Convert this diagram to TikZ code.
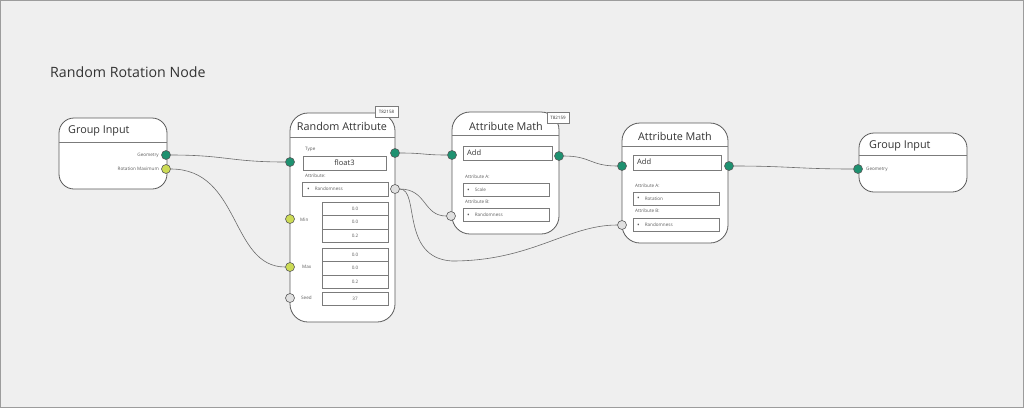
\documentclass[tikz,border=0pt]{standalone}
\usepackage{fontspec}
\setmainfont{Open Sans}
\usepackage{xcolor}
\usepackage{tikz}
\usetikzlibrary{positioning}

\definecolor{bgcol}{HTML}{EFEFEF}
\definecolor{edgecol}{HTML}{5A5A5A}
\definecolor{txtcol}{HTML}{333333}
\definecolor{sockgreen}{HTML}{1E9170}
\definecolor{socklime}{HTML}{CCDB55}
\definecolor{sockgray}{HTML}{E0E0E0}

\newcommand{\dotitem}[1]{\raisebox{-0.6pt}{\fontsize{7}{7}\selectfont\textbullet}\hspace{5pt}#1}

\tikzset{
    nodebox/.style={line width=0.8pt, draw=edgecol, fill=white},
    fieldbox/.style={line width=0.5pt, draw=edgecol!80, fill=white},
    sock/.style={circle, draw=edgecol, line width=0.6pt, minimum size=9pt, inner sep=0pt},
    geosock/.style={sock, fill=sockgreen},
    vecsock/.style={sock, fill=socklime},
    fltsock/.style={sock, fill=sockgray},
    wire/.style={draw=edgecol!90, line width=0.6pt},
    headtext/.style={font=\fontsize{10.8}{13}\selectfont, text=txtcol, inner sep=0pt},
    fieldtext/.style={font=\fontsize{7.5}{9}\selectfont, text=txtcol, inner sep=0pt},
    tinytext/.style={font=\fontsize{4.6}{5}\selectfont, text=txtcol!80, inner sep=0pt},
    tagtext/.style={font=\fontsize{4.5}{5}\selectfont, text=txtcol, inner sep=0pt}
}

\begin{document}
\begin{tikzpicture}[x=1pt, y=-1pt]
    % background
    \fill[bgcol] (0,0) rectangle (1024,408);
    \draw[edgecol!60, line width=0.8pt] (0.4,0.4) rectangle (1023.6,407.6);
    \useasboundingbox (0,0) rectangle (1024,408);

    \node[anchor=west, font=\fontsize{14.2}{16}\selectfont, text=txtcol, inner sep=0pt] (title) at (50,72) {Random Rotation Node};

    % group input (left)
    \draw[nodebox, rounded corners=15pt] (59,118) rectangle (167,189);
    \draw[edgecol!80, line width=0.6pt] (59,142) -- (167,142);
    \node[headtext, anchor=west] (gi1head) at (68,131) {Group Input};
    \node[tinytext, anchor=east] (gi1geolbl) at (159,155) {Geometry};
    \node[tinytext, anchor=east] (gi1rotlbl) at (159,169) {Rotation Maximum};

    % random attribute
    \draw[nodebox, rounded corners=18pt] (290,113) rectangle (395,322);
    \draw[edgecol!80, line width=0.6pt] (290,137) -- (395,137);
    \node[headtext] (rahead) at (342,126) {Random Attribute};
    \draw[fieldbox, line width=0.6pt] (375,106) rectangle (398,117) node[pos=.5, tagtext] {T82158};
    \node[tinytext, anchor=west] (ratype) at (305,149) {Type};
    \draw[fieldbox, line width=0.7pt] (303,156) rectangle (386,170) node[pos=.5, fieldtext] {float3};
    \node[tinytext, anchor=west] (raattr) at (305,176) {Attribute:};
    \draw[fieldbox] (302,182) rectangle (388,196);
    \node[tinytext, anchor=west] (rarandlbl) at (307,189) {\dotitem{Randomness}};
    \foreach \ya/\yb/\val in {202/215/0.0, 215/229/0.0, 229/242/0.2, 248/261/0.0, 261/275/0.0, 275/288/0.2, 292/305/37}
        \draw[fieldbox] (322,\ya) rectangle (388,\yb) node[pos=.5, tinytext] {\val};
    \node[tinytext, anchor=west] (raminlbl) at (300,220) {Min};
    \node[tinytext, anchor=west] (ramaxlbl) at (302,267) {Max};
    \node[tinytext, anchor=west] (raseedlbl) at (301,298) {Seed};

    % attribute math (first)
    \draw[nodebox, rounded corners=18pt] (452,112) rectangle (559,234);
    \draw[edgecol!80, line width=0.6pt] (452,135) -- (559,135);
    \node[headtext] (am1head) at (506,126) {Attribute Math};
    \draw[fieldbox, line width=0.6pt] (547,112) rectangle (569,123) node[pos=.5, tagtext] {T82159};
    \draw[fieldbox, line width=0.7pt] (463,146) rectangle (552,160);
    \node[fieldtext, anchor=west] (am1op) at (467,153) {Add};
    \node[tinytext, anchor=west] (am1alb) at (465,177) {Attribute A:};
    \draw[fieldbox] (463,183) rectangle (549,196);
    \node[tinytext, anchor=west] (am1aval) at (467,190) {\dotitem{Scale}};
    \node[tinytext, anchor=west] (am1blb) at (465,202) {Attribute B:};
    \draw[fieldbox] (463,208) rectangle (549,221);
    \node[tinytext, anchor=west] (am1bval) at (467,215) {\dotitem{Randomness}};

    % attribute math (second)
    \draw[nodebox, rounded corners=18pt] (622,123) rectangle (728,243);
    \draw[edgecol!80, line width=0.6pt] (622,146) -- (728,146);
    \node[headtext] (am2head) at (675,136) {Attribute Math};
    \draw[fieldbox, line width=0.7pt] (633,155) rectangle (721,170);
    \node[fieldtext, anchor=west] (am2op) at (637,162) {Add};
    \node[tinytext, anchor=west] (am2alb) at (635,186) {Attribute A:};
    \draw[fieldbox] (633,192) rectangle (719,205);
    \node[tinytext, anchor=west] (am2aval) at (637,199) {\dotitem{Rotation}};
    \node[tinytext, anchor=west] (am2blb) at (635,211) {Attribute B:};
    \draw[fieldbox] (633,218) rectangle (719,231);
    \node[tinytext, anchor=west] (am2bval) at (637,225) {\dotitem{Randomness}};

    % group input (right)
    \draw[nodebox, rounded corners=15pt] (859,133) rectangle (967,192);
    \draw[edgecol!80, line width=0.6pt] (859,155) -- (967,155);
    \node[headtext, anchor=west] (gi2head) at (869,146) {Group Input};
    \node[tinytext, anchor=west] (gi2geolbl) at (866,169) {Geometry};

    % sockets
    \node[geosock] (gi1geo) at (166,155) {};
    \node[vecsock] (gi1rot) at (166,169) {};
    \node[geosock] (rain) at (290,162) {};
    \node[geosock] (raout) at (395,153) {};
    \node[fltsock] (rarand) at (395,189) {};
    \node[vecsock] (ramin) at (290,219) {};
    \node[vecsock] (ramax) at (290,267) {};
    \node[fltsock] (raseed) at (290,298) {};
    \node[geosock] (am1in) at (452,155) {};
    \node[geosock] (am1out) at (559,156) {};
    \node[fltsock] (am1b) at (451,216) {};
    \node[geosock] (am2in) at (622,166) {};
    \node[geosock] (am2out) at (729,166) {};
    \node[fltsock] (am2b) at (622,225) {};
    \node[geosock] (gi2geo) at (858,169) {};

    % wires
    \coordinate (randlow) at (452,261);
    \draw[wire] (gi1geo) .. controls +(60,0) and +(-60,0) .. (rain);
    \draw[wire] (gi1rot) .. controls +(75,0) and +(-60,0) .. (ramax);
    \draw[wire] (raout) .. controls +(30,0) and +(-30,0) .. (am1in);
    \draw[wire] (rarand) .. controls +(32,0) and +(-28,0) .. (am1b);
    \draw[wire] (rarand) .. controls (420,189) and (400,258) .. (randlow)
        .. controls +(80,0) and +(-55,0) .. (am2b);
    \draw[wire] (am1out) .. controls +(32,0) and +(-32,0) .. (am2in);
    \draw[wire] (am2out) .. controls +(60,0) and +(-60,0) .. (gi2geo);
\end{tikzpicture}
\end{document}
